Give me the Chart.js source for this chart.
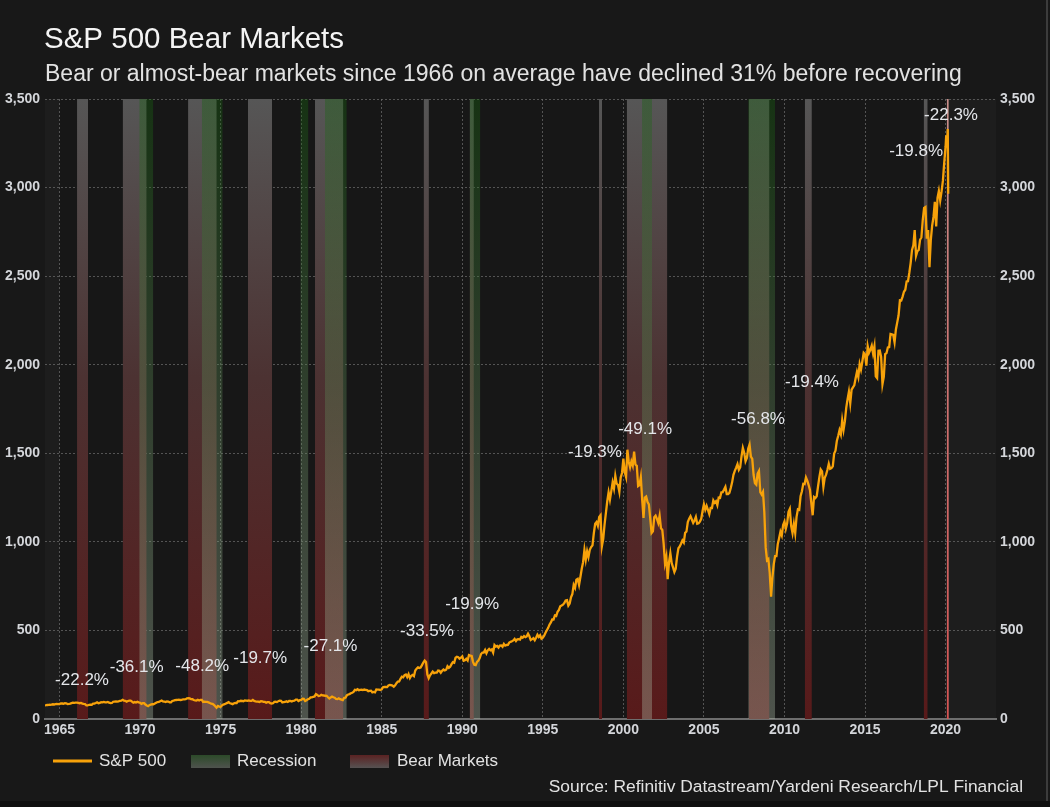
<!DOCTYPE html>
<html>
<head>
<meta charset="utf-8">
<script src="https://cdn.jsdelivr.net/npm/chart.js@4.4.1/dist/chart.umd.min.js"></script>
<style>
html,body{margin:0;padding:0;background:#181818;}
#wrap{position:relative;width:1050px;height:807px;}
canvas{display:block;}
</style>
</head>
<body>
<div id="wrap"><canvas id="c" width="1050" height="807"></canvas></div>
<script>
// ---------- text ----------
const chartTitle = 'S&P 500 Bear Markets';
const chartSubtitle = 'Bear or almost-bear markets since 1966 on average have declined 31% before recovering';
const sourceText = 'Source: Refinitiv Datastream/Yardeni Research/LPL Financial';
const legendLabels = ['S&P 500', 'Recession', 'Bear Markets'];

// ---------- axes ----------
const xTickYears = [1965, 1970, 1975, 1980, 1985, 1990, 1995, 2000, 2005, 2010, 2015, 2020];
const yTickValues = [0, 500, 1000, 1500, 2000, 2500, 3000, 3500];

// ---------- S&P 500, monthly (first value = Jan 1964) ----------
const spxFirstYear = 1964;
const spx1960s = [
77.04, 77.80, 78.98, 79.46, 80.37, 81.69, 83.18, 81.83, 84.18, 84.86, 84.42, 84.75,
87.56, 87.43, 86.16, 89.11, 88.42, 84.12, 85.25, 87.17, 89.96, 92.42, 91.61, 92.43,
92.88, 91.22, 89.23, 91.06, 86.13, 84.74, 83.60, 77.10, 76.56, 80.20, 80.45, 80.33,
86.61, 86.78, 90.20, 94.01, 89.08, 90.64, 94.75, 93.64, 96.71, 93.90, 94.00, 96.47,
92.24, 89.36, 90.20, 97.59, 98.68, 99.58, 97.74, 98.86, 102.67, 103.41, 108.37, 103.86,
103.01, 98.13, 101.51, 103.69, 103.46, 97.71, 91.83, 95.51, 93.12, 97.24, 93.81, 92.06
];
const spx1970s = [
85.02, 89.50, 89.63, 81.52, 76.55, 72.72, 78.05, 81.52, 84.21, 83.25, 87.20, 92.15,
95.88, 96.75, 100.31, 103.95, 99.63, 98.70, 95.58, 99.03, 98.34, 94.23, 93.99, 102.09,
103.94, 106.57, 107.20, 107.67, 109.53, 107.14, 107.39, 111.09, 110.55, 111.58, 116.67, 118.05,
116.03, 111.68, 111.52, 106.97, 104.95, 104.26, 108.22, 104.25, 108.43, 108.29, 95.96, 97.55,
96.57, 96.22, 93.98, 90.31, 87.28, 86.00, 79.31, 72.15, 63.54, 73.90, 69.97, 68.56,
76.98, 81.59, 83.36, 87.30, 91.15, 95.19, 88.75, 86.88, 83.87, 89.04, 91.24, 90.19,
100.86, 99.71, 102.77, 101.64, 100.18, 104.28, 103.44, 102.91, 105.24, 102.90, 102.10, 107.46,
102.03, 99.82, 98.42, 98.44, 96.12, 100.48, 98.85, 96.77, 96.53, 92.34, 94.83, 95.10,
89.25, 87.04, 89.21, 96.83, 97.24, 95.53, 100.68, 103.29, 102.54, 93.15, 94.70, 96.11,
99.93, 96.28, 101.59, 101.76, 99.08, 102.91, 103.81, 109.32, 109.32, 101.82, 106.16, 107.94
];
const spx1980s = [
114.16, 113.66, 102.09, 106.29, 111.24, 114.24, 121.67, 122.38, 125.46, 127.47, 140.52, 135.76,
129.55, 131.27, 136.00, 132.81, 132.59, 131.21, 130.92, 122.79, 116.18, 121.89, 126.35, 122.55,
120.40, 113.11, 111.96, 116.44, 111.88, 109.61, 107.09, 119.51, 120.42, 133.71, 138.54, 140.64,
145.30, 148.06, 152.96, 164.42, 162.39, 168.11, 162.56, 164.40, 166.07, 163.55, 166.40, 164.93,
163.41, 157.06, 159.18, 160.05, 150.55, 153.18, 150.66, 166.68, 166.10, 166.09, 163.58, 167.24,
179.63, 181.18, 180.66, 179.83, 189.55, 191.85, 190.92, 188.63, 182.08, 189.82, 202.17, 211.28,
211.78, 226.92, 238.90, 235.52, 247.35, 250.84, 236.12, 252.93, 231.32, 243.98, 249.22, 242.17,
274.08, 284.20, 291.70, 288.36, 290.10, 304.00, 318.66, 329.80, 321.83, 251.79, 230.30, 247.08,
257.07, 267.82, 258.89, 261.33, 262.16, 273.50, 272.02, 261.52, 271.91, 278.97, 273.70, 277.72,
297.47, 288.86, 294.87, 309.64, 320.52, 317.98, 346.08, 351.45, 349.15, 340.36, 345.99, 353.40
];
const spx1990s = [
329.08, 331.89, 339.94, 330.80, 361.23, 358.02, 356.15, 322.56, 306.05, 304.00, 322.22, 330.22,
343.93, 367.07, 375.22, 375.35, 389.83, 371.16, 387.81, 395.43, 387.86, 392.45, 375.22, 417.09,
408.79, 412.70, 403.69, 414.95, 415.35, 408.14, 424.21, 414.03, 417.80, 418.68, 431.35, 435.71,
438.78, 443.38, 451.67, 440.19, 450.19, 450.53, 448.13, 463.56, 458.93, 467.83, 461.79, 466.45,
481.61, 467.14, 445.77, 450.91, 456.50, 444.27, 458.26, 475.49, 462.69, 472.35, 453.69, 459.27,
470.42, 487.39, 500.71, 514.71, 533.40, 544.75, 562.06, 561.88, 584.41, 581.50, 605.37, 615.93,
636.02, 640.43, 645.50, 654.17, 669.12, 670.63, 639.95, 651.99, 687.33, 705.27, 757.02, 740.74,
786.16, 790.82, 757.12, 801.34, 848.28, 885.14, 954.31, 899.47, 947.28, 914.62, 955.40, 970.43,
980.28, 1049.34, 1101.75, 1111.75, 1090.82, 1140.00, 1150.00, 975.00, 1017.01, 1098.67, 1163.63, 1229.23,
1279.64, 1238.33, 1286.37, 1335.18, 1301.84, 1372.71, 1328.72, 1320.41, 1282.71, 1362.93, 1388.91, 1469.25
];
const spx2000s = [
1394.46, 1366.42, 1520.00, 1452.43, 1420.60, 1454.60, 1430.83, 1510.00, 1436.51, 1429.40, 1314.95, 1320.28,
1366.01, 1239.94, 1135.00, 1249.46, 1255.82, 1224.42, 1211.23, 1133.58, 1050.00, 1059.78, 1139.45, 1148.08,
1130.20, 1106.73, 1147.39, 1076.92, 1067.14, 989.82, 880.00, 916.07, 790.00, 885.76, 936.31, 879.82,
855.70, 830.00, 848.18, 916.92, 963.59, 974.50, 990.31, 1008.01, 995.97, 1050.71, 1058.20, 1111.92,
1131.13, 1144.94, 1126.21, 1107.30, 1120.68, 1140.84, 1101.72, 1104.24, 1114.58, 1130.20, 1173.82, 1211.92,
1181.27, 1203.60, 1180.59, 1156.85, 1191.50, 1191.33, 1234.18, 1220.33, 1228.81, 1207.01, 1249.48, 1248.29,
1280.08, 1280.66, 1294.87, 1310.61, 1270.09, 1270.20, 1276.66, 1303.82, 1335.85, 1377.94, 1400.63, 1418.30,
1438.24, 1406.82, 1420.86, 1482.37, 1530.62, 1503.35, 1455.27, 1473.99, 1526.75, 1549.38, 1481.14, 1468.36,
1378.55, 1330.63, 1322.70, 1385.59, 1400.38, 1280.00, 1267.38, 1282.83, 1166.36, 968.75, 896.24, 903.25,
825.88, 690.00, 797.87, 872.81, 919.14, 919.32, 987.48, 1020.62, 1057.08, 1036.19, 1095.63, 1115.10
];
const spx2010s = [
1073.87, 1104.49, 1169.43, 1186.69, 1089.41, 1050.00, 1101.60, 1049.33, 1141.20, 1183.26, 1180.55, 1257.64,
1286.12, 1327.22, 1325.83, 1363.61, 1345.20, 1320.64, 1292.28, 1218.89, 1150.00, 1253.30, 1246.96, 1257.60,
1312.41, 1365.68, 1408.47, 1397.91, 1310.33, 1362.16, 1379.32, 1406.58, 1440.67, 1412.16, 1416.18, 1426.19,
1498.11, 1514.68, 1569.19, 1597.57, 1630.74, 1606.28, 1685.73, 1632.97, 1681.55, 1756.54, 1805.81, 1848.36,
1782.59, 1859.45, 1872.34, 1883.95, 1923.57, 1960.23, 1930.67, 2003.37, 1972.29, 2018.05, 2067.56, 2058.90,
1994.99, 2104.50, 2067.89, 2085.51, 2107.39, 2063.11, 2103.84, 1935.00, 1925.00, 2079.36, 2080.41, 2043.94,
1890.00, 1932.23, 2059.74, 2065.30, 2096.95, 2098.86, 2173.60, 2170.95, 2168.27, 2126.15, 2198.81, 2238.83,
2278.87, 2363.64, 2362.72, 2384.20, 2411.80, 2423.41, 2470.30, 2471.65, 2519.36, 2575.26, 2647.58, 2673.61,
2760.00, 2615.00, 2640.87, 2648.05, 2705.27, 2718.37, 2816.29, 2885.00, 2890.00, 2711.74, 2760.17, 2550.00,
2704.10, 2784.49, 2834.40, 2920.00, 2780.00, 2941.76, 2980.38, 2926.46, 2976.74, 3037.56, 3140.98, 3230.78
];
// early 2020, finer points (decimal year, value)
const spx2020Dates = [2020.04, 2020.083, 2020.135, 2020.165];
const spx2020Values = [3295, 3225, 3330, 2965];

// ---------- bear markets (decimal years) ----------
const bearStart = [1966.09, 1968.92, 1972.98, 1976.70, 1980.86, 1987.60, 1990.46, 1998.49, 2000.21, 2007.78, 2011.26, 2018.64, 2020.07];
const bearEnd   = [1966.77, 1970.41, 1974.76, 1978.19, 1982.62, 1987.93, 1990.72, 1998.68, 2002.73, 2009.07, 2011.70, 2018.89, 2020.20];
const bearDecline = ['-22.2%', '-36.1%', '-48.2%', '-19.7%', '-27.1%', '-33.5%', '-19.9%', '-19.3%', '-49.1%', '-56.8%', '-19.4%', '-19.8%', '-22.3%'];
const bearLabelYear  = [1966.40, 1969.79, 1973.86, 1977.46, 1981.82, 1987.81, 1990.61, 1998.24, 2001.35, 2008.36, 2011.71, 2018.17, 2020.34];
const bearLabelValue = [216, 289, 297, 340, 408, 493, 645, 1508, 1638, 1689, 1903, 3205, 3410];

// ---------- recessions (decimal years) ----------
const recessionStart = [1969.95, 1973.83, 1979.95, 1981.48, 1990.46, 2001.16, 2007.75, 2020.07];
const recessionEnd   = [1970.82, 1975.13, 1980.45, 1982.83, 1991.12, 2001.78, 2009.42, 2020.20];

// ---------- build ----------
const FONT = '"Liberation Sans", Arial, Helvetica, sans-serif';
const yMax = 3500;

const spxPoints = [];
[spx1960s, spx1970s, spx1980s, spx1990s, spx2000s, spx2010s].forEach((arr, d) => {
  arr.forEach((v, i) => {
    const monthIndex = (d === 0 ? 0 : 72 + (d - 1) * 120) + i;
    spxPoints.push({x: spxFirstYear + (monthIndex + 1) / 12, y: v});
  });
});
spx2020Dates.forEach((d, i) => spxPoints.push({x: d, y: spx2020Values[i]}));

function bearFill(context) {
  const chart = context.chart; const ca = chart.chartArea;
  if (!ca) return 'rgba(90,60,60,0.9)';
  const g = chart.ctx.createLinearGradient(0, ca.top, 0, ca.bottom);
  g.addColorStop(0, 'rgb(86,86,86)');
  g.addColorStop(0.45, 'rgb(76,50,50)');
  g.addColorStop(1, 'rgb(88,26,26)');
  return g;
}
function bearFillCurrent(context) {
  const chart = context.chart; const ca = chart.chartArea;
  if (!ca) return 'rgba(200,90,90,1)';
  const g = chart.ctx.createLinearGradient(0, ca.top, 0, ca.bottom);
  g.addColorStop(0, 'rgb(200,140,140)');
  g.addColorStop(1, 'rgb(215,80,80)');
  return g;
}
function recessionFill(context) {
  const chart = context.chart; const ca = chart.chartArea;
  if (!ca) return 'rgba(60,110,50,0.35)';
  const g = chart.ctx.createLinearGradient(0, ca.top, 0, ca.bottom);
  g.addColorStop(0, 'rgba(22,100,14,0.36)');
  g.addColorStop(0.5, 'rgba(95,135,88,0.36)');
  g.addColorStop(1, 'rgba(175,190,170,0.36)');
  return g;
}

const datasets = [];
datasets.push({
  type: 'line', label: legendLabels[0], data: spxPoints, order: 0,
  borderColor: '#f7a20a', borderWidth: 2.3, pointRadius: 0, tension: 0, fill: false,
  clip: 0
});
recessionStart.forEach((s, i) => {
  const current = i === recessionStart.length - 1;
  datasets.push({
    type: 'line', label: legendLabels[1], data: [{x: s, y: yMax}, {x: recessionEnd[i], y: yMax}],
    order: current ? 3 : 1, borderWidth: 0, borderColor: 'rgba(0,0,0,0)', pointRadius: 0,
    fill: 'origin', backgroundColor: recessionFill
  });
});
bearStart.forEach((s, i) => {
  const current = i === bearStart.length - 1;
  datasets.push({
    type: 'line', label: legendLabels[2], data: [{x: s, y: yMax}, {x: bearEnd[i], y: yMax}],
    order: current ? 0.5 : 2, borderWidth: 0, borderColor: 'rgba(0,0,0,0)', pointRadius: 0,
    fill: 'origin', backgroundColor: current ? bearFillCurrent : bearFill
  });
});

// background + frame
const backgroundPlugin = {
  id: 'bgPlugin',
  beforeDraw(chart) {
    const {ctx, chartArea: ca, scales} = chart;
    ctx.save();
    ctx.fillStyle = '#181818';
    ctx.fillRect(0, 0, chart.width, chart.height);
    ctx.fillStyle = '#1d1d1d';
    ctx.fillRect(ca.left, ca.top, ca.right - ca.left, ca.bottom - ca.top);
    const x0 = scales.x.getPixelForValue(1965.0);
    const x1 = scales.x.getPixelForValue(2020.17);
    ctx.fillStyle = '#171717';
    ctx.fillRect(x0, ca.top, x1 - x0, ca.bottom - ca.top);
    ctx.fillStyle = '#0f0f0f';
    ctx.fillRect(0, 801, chart.width, chart.height - 801);
    ctx.fillStyle = '#3c3c3c';
    ctx.fillRect(1046, 0, 2, 801);
    ctx.restore();
  }
};

// percent labels
const labelPlugin = {
  id: 'bearLabels',
  afterDatasetsDraw(chart) {
    const {ctx, scales} = chart;
    ctx.save();
    ctx.font = '17px ' + FONT;
    ctx.fillStyle = '#e4e6ea';
    ctx.textAlign = 'center';
    ctx.textBaseline = 'middle';
    bearDecline.forEach((t, i) => {
      ctx.fillText(t, scales.x.getPixelForValue(bearLabelYear[i]), scales.y.getPixelForValue(bearLabelValue[i]));
    });
    ctx.restore();
  }
};

// title, subtitle, legend, source
const textPlugin = {
  id: 'texts',
  afterDraw(chart) {
    const {ctx} = chart;
    ctx.save();
    ctx.textBaseline = 'middle';
    ctx.textAlign = 'left';
    ctx.fillStyle = '#f4f4f4';
    ctx.font = '29.5px ' + FONT;
    ctx.fillText(chartTitle, 44, 40);
    ctx.fillStyle = '#e2e2e2';
    ctx.font = '23px ' + FONT;
    ctx.fillText(chartSubtitle, 45, 75);

    // legend
    const ly = 761;
    ctx.strokeStyle = '#f7a20a'; ctx.lineWidth = 3;
    ctx.beginPath(); ctx.moveTo(53, ly); ctx.lineTo(92, ly); ctx.stroke();
    let g = ctx.createLinearGradient(0, 755, 0, 768);
    g.addColorStop(0, '#2c4a29'); g.addColorStop(1, '#4f534e');
    ctx.fillStyle = g; ctx.fillRect(191, 755, 39, 13);
    g = ctx.createLinearGradient(0, 755, 0, 768);
    g.addColorStop(0, '#5a2222'); g.addColorStop(1, '#565252');
    ctx.fillStyle = g; ctx.fillRect(350, 755, 39, 13);
    ctx.fillStyle = '#e2e2e2';
    ctx.font = '17px ' + FONT;
    ctx.fillText(legendLabels[0], 99, ly);
    ctx.fillText(legendLabels[1], 237, ly);
    ctx.fillText(legendLabels[2], 397, ly);

    ctx.textAlign = 'right';
    ctx.font = '17.4px ' + FONT;
    ctx.fillText(sourceText, 1023, 787);
    ctx.restore();
  }
};

const tickFont = {family: FONT, size: 14, weight: 'bold'};
const gridColor = 'rgba(105,105,105,0.75)';

new Chart(document.getElementById('c'), {
  type: 'line',
  data: {datasets},
  options: {
    responsive: false,
    animation: false,
    events: [],
    layout: {padding: {top: 99, bottom: 58, left: 0, right: 0}},
    plugins: {legend: {display: false}, title: {display: false}, tooltip: {enabled: false}},
    scales: {
      x: {
        type: 'linear', min: 1964.1, max: 2023.13,
        afterBuildTicks(scale) { scale.ticks = xTickYears.map(v => ({value: v})); },
        afterFit(scale) { scale.height = 30; },
        ticks: {color: '#d4d6da', font: tickFont, padding: 3, maxRotation: 0, autoSkip: false,
                callback: v => String(v)},
        grid: {color: gridColor, lineWidth: 1, drawTicks: false},
        border: {display: true, color: '#6e6e6e', width: 2, dash: [2, 2]}
      },
      y: {
        position: 'left', min: 0, max: yMax,
        afterBuildTicks(scale) { scale.ticks = yTickValues.map(v => ({value: v})); },
        afterFit(scale) { scale.width = 45; },
        ticks: {color: '#d4d6da', font: tickFont, padding: 5,
                callback: v => Number(v).toLocaleString('en-US')},
        grid: {color: ctx => ctx.tick && ctx.tick.value === 0 ? 'rgba(0,0,0,0)' : gridColor, lineWidth: 1, drawTicks: false},
        border: {display: false, dash: [2, 2]}
      },
      y2: {
        position: 'right', min: 0, max: yMax,
        afterBuildTicks(scale) { scale.ticks = yTickValues.map(v => ({value: v})); },
        afterFit(scale) { scale.width = 54; },
        ticks: {color: '#d4d6da', font: tickFont, padding: 4,
                callback: v => Number(v).toLocaleString('en-US')},
        grid: {display: false, drawTicks: false},
        border: {display: false}
      }
    }
  },
  plugins: [backgroundPlugin, labelPlugin, textPlugin]
});
</script>
</body>
</html>
